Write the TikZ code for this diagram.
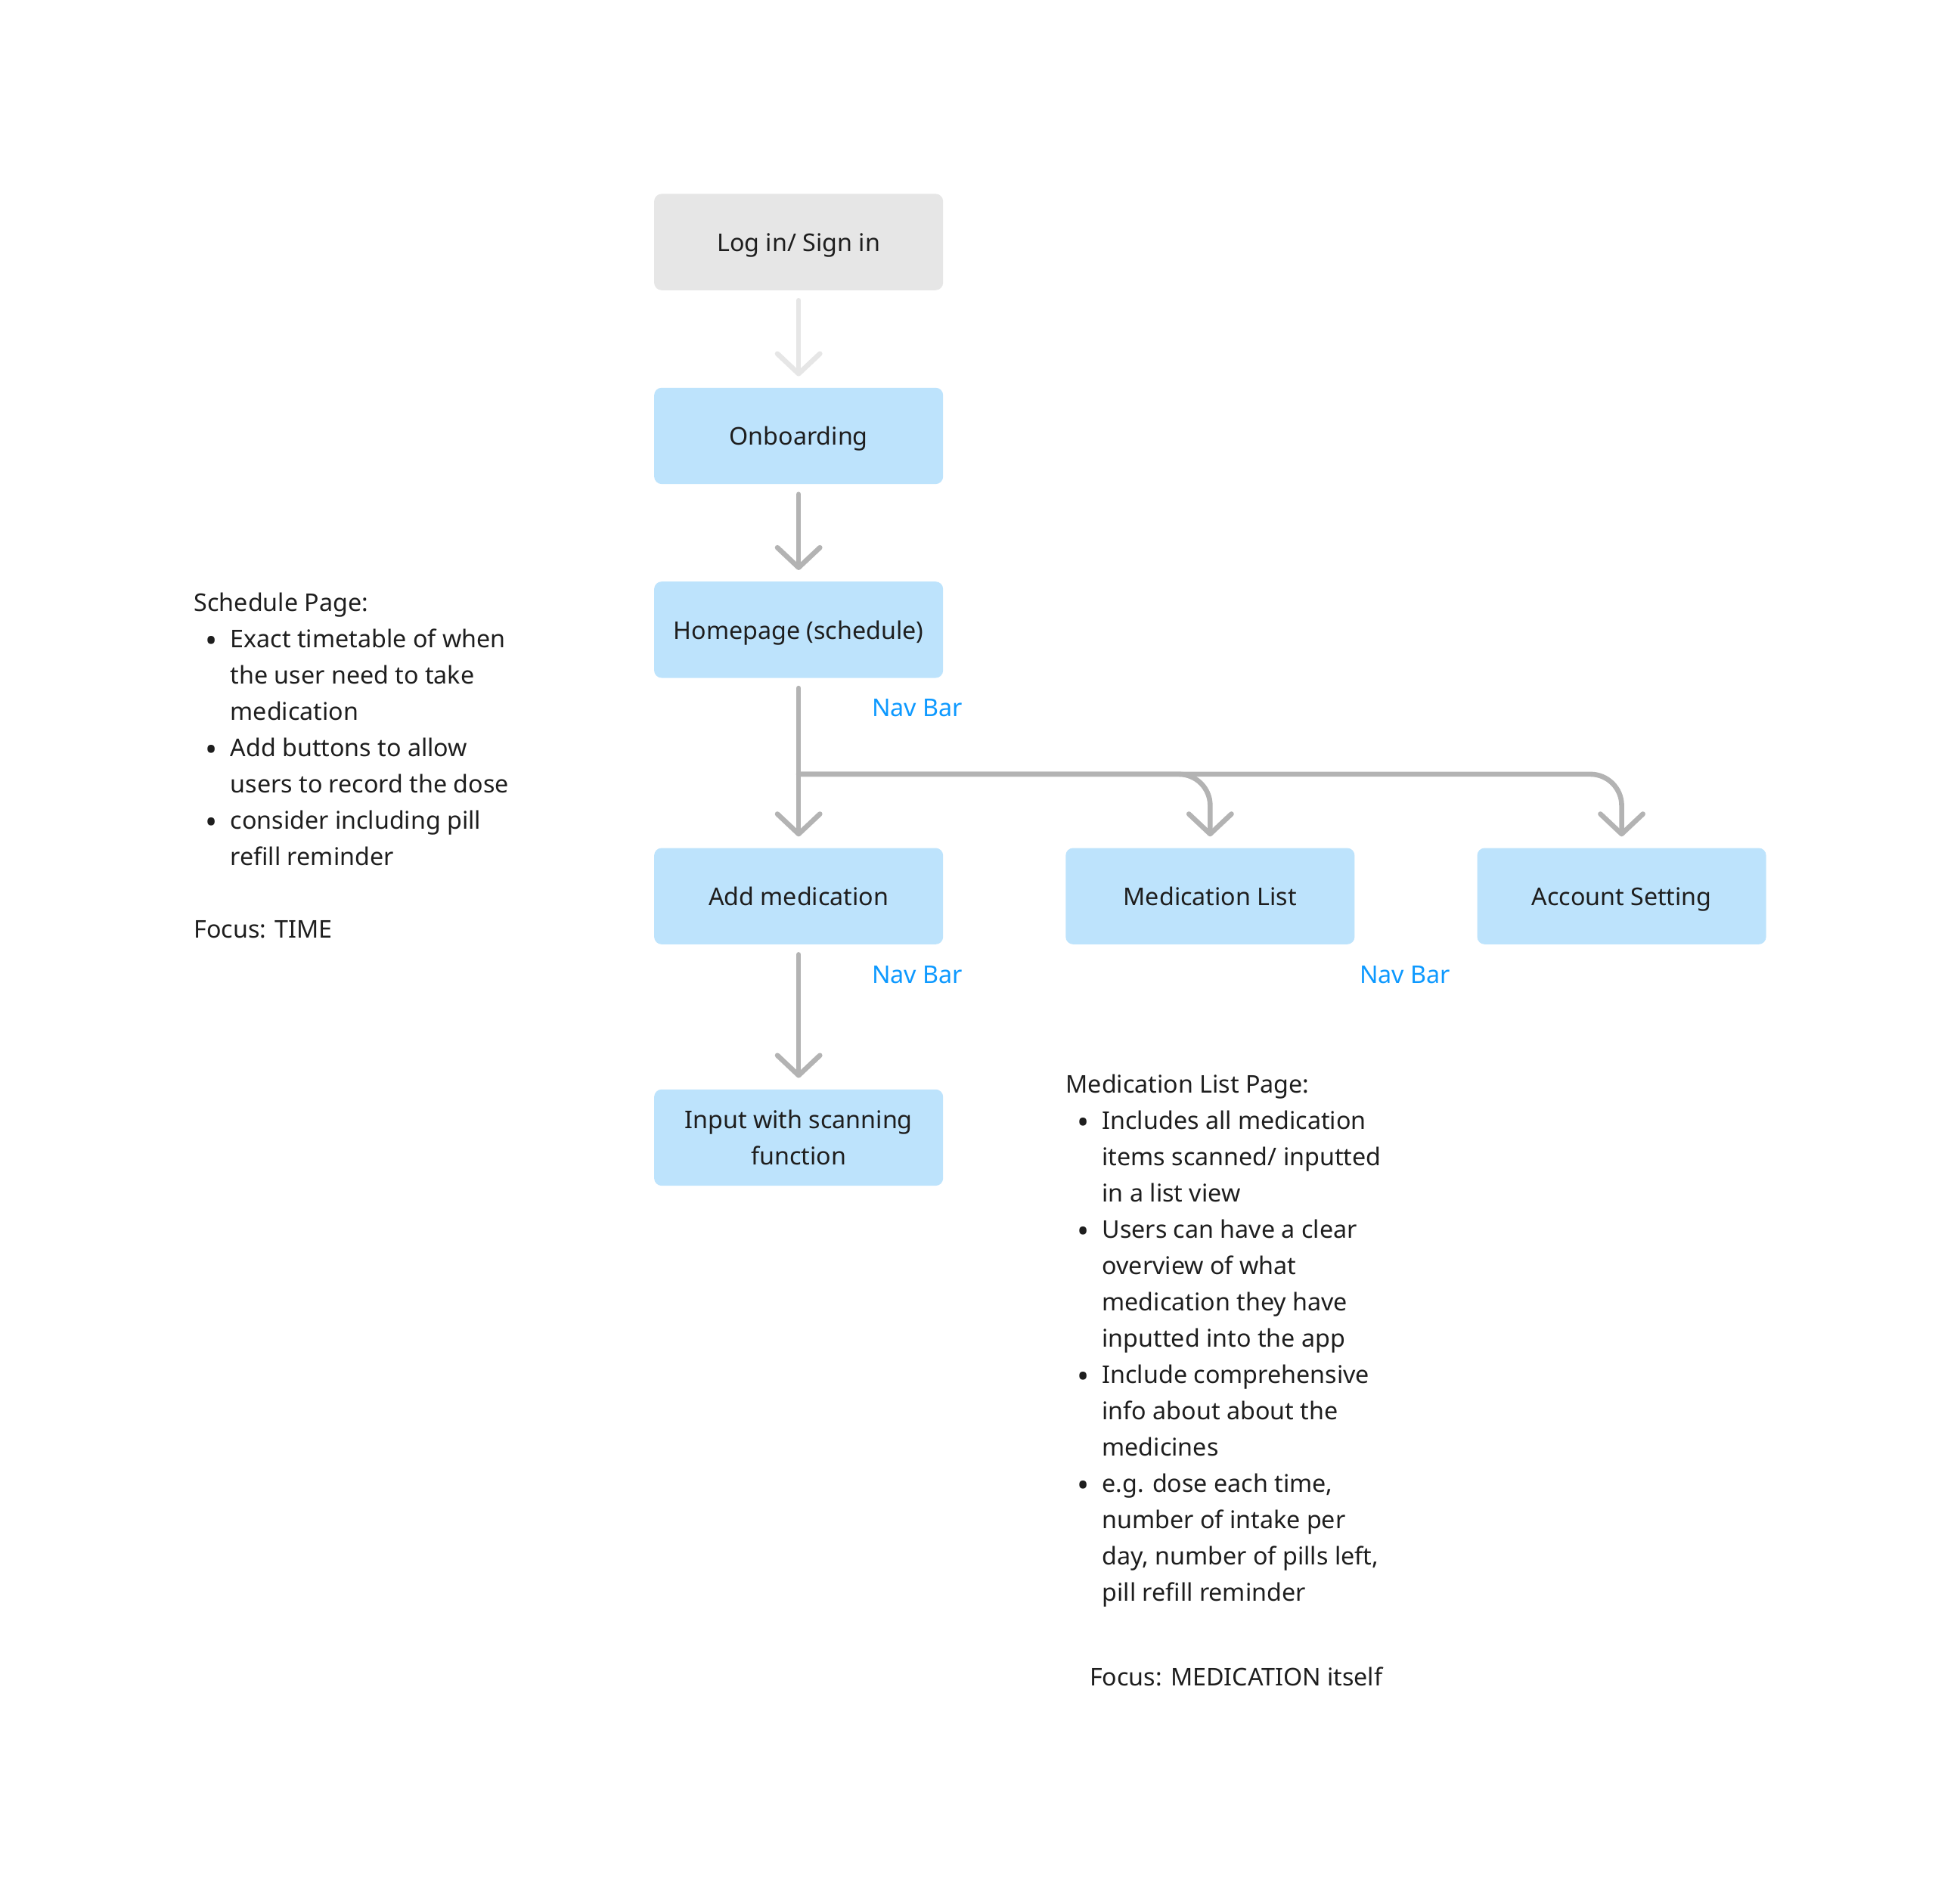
\documentclass[tikz,border=0pt]{standalone}
\usepackage{fontspec}
\setmainfont{Noto Sans}
\usetikzlibrary{arrows.meta}
\definecolor{boxblue}{HTML}{BDE3FC}
\definecolor{boxgray}{HTML}{E6E6E6}
\definecolor{arrgray}{HTML}{B3B3B3}
\definecolor{navblue}{HTML}{0D99FF}
\definecolor{ink}{HTML}{1E1E1E}
\newcommand{\bul}{\makebox[29pt][l]{\hspace{9pt}\raisebox{-3.5pt}{\fontsize{26}{29}\selectfont •}}}
\newcommand{\ind}{\hspace*{29pt}}
\newcommand{\txtfont}{\fontsize{19.5}{29}\selectfont}
\begin{document}
\begin{tikzpicture}[x=1pt,y=-1pt,
  card/.style={rectangle, rounded corners=6pt, minimum width=231pt, minimum height=77pt,
    inner sep=0pt, text=ink, font=\txtfont, align=center},
  bluecard/.style={card, fill=boxblue},
  onecard/.style={bluecard, text height=17pt, text depth=2pt},
  graycard/.style={card, fill=boxgray, text height=17pt, text depth=2pt},
  flow/.style={draw=arrgray, line width=4pt, line cap=round,
    -{Straight Barb[length=16pt,width=34pt,round]}, shorten <=8pt, shorten >=9pt},
  lightflow/.style={flow, draw=boxgray},
  navlabel/.style={anchor=base west, inner sep=0pt, text=navblue, font=\txtfont},
  notes/.style={anchor=base west, inner sep=0pt, text=ink, font=\txtfont}
]
\fill[white] (0,0) rectangle (1567,1502);
\useasboundingbox (0,0) rectangle (1567,1502);

% boxes
\node[graycard] (login) at (638.5,193.5) {Log in/ Sign in};
\node[onecard] (onb) at (638.5,348.5) {Onboarding};
\node[onecard] (home) at (638.5,503.5) {Homepage (schedule)};
\node[onecard] (addmed) at (638.5,716.5) {Add medication};
\node[onecard] (medlist) at (967.5,716.5) {Medication List};
\node[onecard] (acct) at (1296.5,716.5) {Account Setting};
\node[bluecard] (input) at (638.5,909.5) {Input with scanning\\function};

% connectors
\draw[lightflow] (login) -- (onb);
\draw[flow] (onb) -- (home);
\draw[flow] (home) -- (addmed);
\coordinate (br) at (638.5,619);
\draw[flow, shorten <=0pt, rounded corners=25pt] (br) -| (acct.north);
\draw[flow, shorten <=0pt, rounded corners=25pt] (br) -| (medlist.north);
\draw[flow] (addmed) -- (input);

% nav bar labels
\node[navlabel] (nav1) at (697,573) {Nav Bar};
\node[navlabel] (nav2) at (697,786) {Nav Bar};
\node[navlabel] (nav3) at (1087,786) {Nav Bar};

% notes
\node[notes] (sched) at (155,489) {\parbox[t]{330pt}{\txtfont\raggedright
Schedule Page:\\
\bul Exact timetable of when\\
\ind the user need to take\\
\ind medication\\
\bul Add buttons to allow\\
\ind users to record the dose\\
\bul consider including pill\\
\ind refill reminder\\
\mbox{}\\
Focus: TIME}};

\node[notes] (mlnotes) at (852,874) {\parbox[t]{330pt}{\txtfont\raggedright
Medication List Page:\\
\bul Includes all medication\\
\ind items scanned/ inputted\\
\ind in a list view\\
\bul Users can have a clear\\
\ind overview of what\\
\ind medication they have\\
\ind inputted into the app\\
\bul Include comprehensive\\
\ind info about about the\\
\ind medicines\\
\bul e.g. dose each time,\\
\ind number of intake per\\
\ind day, number of pills left,\\
\ind pill refill reminder}};

\node[notes] (mlfocus) at (871,1348) {Focus: MEDICATION itself};
\end{tikzpicture}
\end{document}
